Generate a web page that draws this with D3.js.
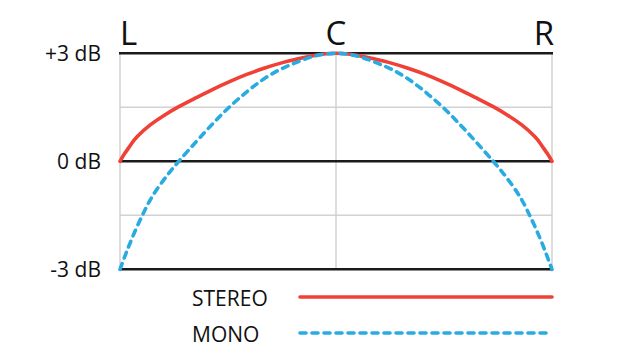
<!DOCTYPE html>
<html>
<head>
<meta charset="utf-8">
<script src="https://cdn.jsdelivr.net/npm/d3@7"></script>
<style>
  html, body { margin: 0; padding: 0; background: #fff; }
  svg { display: block; font-family: "Open Sans", "Noto Sans", sans-serif; }
</style>
</head>
<body>
<svg id="chart" width="640" height="360"></svg>
<script>
// ---- data (pan position: -100 = L, 0 = C, 100 = R; level in dB) ----
const panLabels = ["L", "C", "R"];
const panLabelPos = [-100, 0, 100];
const yTickValues = [-3, 0, 3];
const yTickLabels = ["-3 dB", "0 dB", "+3 dB"];
const yMinorTicks = [-1.5, 1.5];
const xGridValues = [-100, 0, 100];

const stereoPos = [-100, -98, -95, -92, -86, -80, -73, -65, -57, -49, -41, -33, -26, -18, -10, 0,
                   10, 18, 26, 33, 41, 49, 57, 65, 73, 80, 86, 92, 95, 98, 100];
const stereoDb  = [0, 0.2, 0.46, 0.69, 1.01, 1.26, 1.51, 1.76, 2.0, 2.22, 2.42, 2.59, 2.72, 2.84, 2.94, 3,
                   2.94, 2.84, 2.72, 2.59, 2.42, 2.22, 2.0, 1.76, 1.51, 1.26, 1.01, 0.69, 0.46, 0.2, 0];

const monoPos = [-100, -97.5, -95, -92, -89, -86, -82, -77.5, -72.5, -64.5, -56.8, -49.5, -41.3, -33.6, -25.9, -18.2, -10, 0,
                 10, 18.2, 25.9, 33.6, 41.3, 49.5, 56.8, 64.5, 72.5, 77.5, 82, 86, 89, 92, 95, 97.5, 100];
const monoDb  = [-3, -2.6, -2.22, -1.8, -1.42, -1.07, -0.7, -0.34, 0.02, 0.56, 1.06, 1.5, 1.93, 2.28, 2.55, 2.75, 2.92, 3,
                 2.92, 2.75, 2.55, 2.28, 1.93, 1.5, 1.06, 0.56, 0.02, -0.34, -0.7, -1.07, -1.42, -1.8, -2.22, -2.6, -3];

const seriesNames = ["STEREO", "MONO"];
const seriesColors = ["#ef4136", "#29abe2"];

// ---- layout ----
const svg = d3.select("#chart");
const x = d3.scaleLinear().domain([-100, 100]).range([120, 552]);
const y = d3.scaleLinear().domain([-3, 3]).range([269.3, 53.3]);

// light grid
const grid = svg.append("g");
grid.selectAll("line.h").data(yMinorTicks).join("line")
  .attr("x1", x(-100)).attr("x2", x(100))
  .attr("y1", d => y(d)).attr("y2", d => y(d))
  .attr("stroke", "#d2d2d2").attr("stroke-width", 1.5);
grid.selectAll("line.v").data(xGridValues).join("line")
  .attr("x1", d => x(d)).attr("x2", d => x(d))
  .attr("y1", y(3)).attr("y2", y(-3))
  .attr("stroke", "#d2d2d2").attr("stroke-width", 1.5);

// major lines
svg.append("g").selectAll("line").data(yTickValues).join("line")
  .attr("x1", x(-100) - 1).attr("x2", x(100) + 1)
  .attr("y1", d => y(d)).attr("y2", d => y(d))
  .attr("stroke", "#1a1a1a").attr("stroke-width", 2.6);

// y axis labels
const yAxis = d3.axisLeft(y).tickValues(yTickValues)
  .tickFormat((d, i) => yTickLabels[i]).tickSize(0).tickPadding(0);
const ya = svg.append("g").attr("transform", "translate(101,0)").call(yAxis);
ya.select(".domain").remove();
ya.selectAll("text").attr("font-size", 21).attr("fill", "#111")
  .attr("font-family", "'Open Sans', sans-serif").attr("dy", "0.36em");

// top pan labels
const anchors = ["start", "middle", "end"];
svg.append("g").selectAll("text").data(panLabels).join("text")
  .attr("x", (d, i) => x(panLabelPos[i]) + (i === 2 ? 2 : 0))
  .attr("y", 44.5)
  .attr("text-anchor", (d, i) => anchors[i])
  .attr("font-size", 33).attr("fill", "#111")
  .text(d => d);

// curves
const line = d3.line().x(d => x(d[0])).y(d => y(d[1])).curve(d3.curveNatural);
const stereo = stereoPos.map((p, i) => [p, stereoDb[i]]);
const mono = monoPos.map((p, i) => [p, monoDb[i]]);

svg.append("path").datum(stereo).attr("d", line)
  .attr("fill", "none").attr("stroke", seriesColors[0]).attr("stroke-width", 3.6)
  .attr("stroke-linecap", "round");
svg.append("path").datum(mono).attr("d", line)
  .attr("fill", "none").attr("stroke", seriesColors[1]).attr("stroke-width", 3.6)
  .attr("stroke-dasharray", "6,6").attr("stroke-linecap", "round");

// legend
const legY = [297, 333];
const leg = svg.append("g");
leg.selectAll("text").data(seriesNames).join("text")
  .attr("x", 192).attr("y", (d, i) => legY[i] + 9)
  .attr("font-size", 21).attr("fill", "#111")
  .text(d => d);
leg.selectAll("line").data(seriesNames).join("line")
  .attr("x1", 300).attr("x2", 552)
  .attr("y1", (d, i) => legY[i]).attr("y2", (d, i) => legY[i])
  .attr("stroke", (d, i) => seriesColors[i]).attr("stroke-width", 3.6)
  .attr("stroke-linecap", "round")
  .attr("stroke-dasharray", (d, i) => i === 1 ? "6,6" : null);
</script>
</body>
</html>
